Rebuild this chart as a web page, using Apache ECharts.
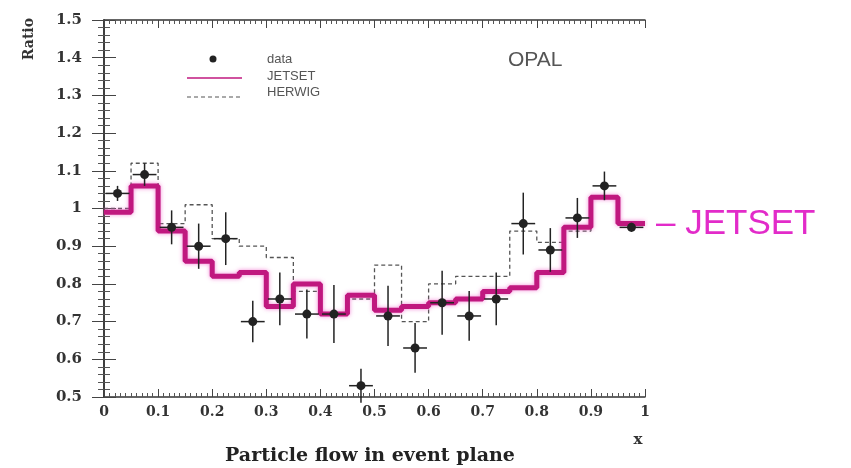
<!DOCTYPE html>
<html>
<head>
<meta charset="utf-8">
<script src="https://cdn.jsdelivr.net/npm/echarts@6/dist/echarts.min.js"></script>
<style>
  html, body { margin: 0; padding: 0; background: #fff; }
  #chart { width: 851px; height: 468px; }
</style>
</head>
<body>
<div id="chart"></div>
<script>
// bin lower edges (width 0.05)
const binEdges = [0, 0.05, 0.1, 0.15, 0.2, 0.25, 0.3, 0.35, 0.4, 0.45,
                  0.5, 0.55, 0.6, 0.65, 0.7, 0.75, 0.8, 0.85, 0.9, 0.95];
const binEnd = 1;

const jetset = [0.99, 1.06, 0.94, 0.86, 0.82, 0.83, 0.74, 0.80, 0.72, 0.77,
                0.73, 0.74, 0.75, 0.76, 0.78, 0.79, 0.83, 0.95, 1.03, 0.96];
const herwig = [1.00, 1.12, 0.96, 1.01, 0.92, 0.90, 0.87, 0.78, 0.72, 0.76,
                0.85, 0.70, 0.80, 0.82, 0.82, 0.94, 0.91, 0.94, 1.03, 0.96];

const dataX = [0.025, 0.075, 0.125, 0.175, 0.225, 0.275, 0.325, 0.375, 0.425, 0.475,
               0.525, 0.575, 0.625, 0.675, 0.725, 0.775, 0.825, 0.875, 0.925, 0.975];
const dataY = [1.04, 1.09, 0.95, 0.90, 0.92, 0.70, 0.76, 0.72, 0.72, 0.53,
               0.715, 0.63, 0.75, 0.715, 0.76, 0.96, 0.89, 0.975, 1.06, 0.95];
const dataErr = [0.02, 0.03, 0.045, 0.06, 0.07, 0.055, 0.07, 0.065, 0.077, 0.045,
                 0.08, 0.066, 0.085, 0.066, 0.07, 0.082, 0.058, 0.053, 0.038, 0.012];
const xHalfWidth = 0.022;

function stepPoints(vals) {
  const pts = binEdges.map((x, i) => [x, vals[i]]);
  pts.push([binEnd, vals[vals.length - 1]]);
  return pts;
}

const fmt = v => String(+v.toFixed(1));
const serif = '"DejaVu Serif", "Liberation Serif", serif';
const sans = '"Liberation Sans", "DejaVu Sans", sans-serif';

const chart = echarts.init(document.getElementById('chart'));

const axisCommon = {
  axisLine: { show: true, lineStyle: { color: '#333', width: 1.5 } },
  splitLine: { show: false }
};

chart.setOption({
  animation: false,
  backgroundColor: '#fff',
  grid: { left: 104, right: 206, top: 20, bottom: 71 },
  xAxis: [{
    ...axisCommon,
    type: 'value', min: 0, max: 1, interval: 0.1,
    axisTick: { inside: true, length: 8, lineStyle: { color: '#444' } },
    minorTick: { show: true, splitNumber: 10, length: 4, lineStyle: { color: '#555' } },
    axisLabel: { formatter: fmt, color: '#333', fontFamily: serif, fontWeight: 'bold', fontSize: 14, margin: 8 }
  }, {
    ...axisCommon,
    type: 'value', min: 0, max: 1, interval: 0.1, position: 'top',
    axisTick: { inside: true, length: 8, lineStyle: { color: '#444' } },
    minorTick: { show: true, splitNumber: 10, length: 4, lineStyle: { color: '#555' } },
    axisLabel: { show: false }
  }],
  yAxis: [{
    ...axisCommon,
    type: 'value', min: 0.5, max: 1.5, interval: 0.1,
    axisTick: { inside: true, length: 12, lineStyle: { color: '#444' } },
    minorTick: { show: true, splitNumber: 5, length: 6, lineStyle: { color: '#555' } },
    axisLabel: { formatter: fmt, color: '#333', fontFamily: serif, fontWeight: 'bold', fontSize: 15, margin: 22 }
  }, {
    ...axisCommon,
    type: 'value', min: 0.5, max: 1.5, interval: 0.1, position: 'right',
    axisTick: { inside: true, length: 12, lineStyle: { color: '#444' } },
    minorTick: { show: true, splitNumber: 5, length: 6, lineStyle: { color: '#555' } },
    axisLabel: { show: false }
  }],
  series: [{
    name: 'HERWIG',
    type: 'line',
    step: 'end',
    data: stepPoints(herwig),
    symbol: 'none',
    lineStyle: { color: '#555', width: 1.3, type: [4, 3] },
    z: 2
  }, {
    name: 'JETSET',
    type: 'line',
    step: 'end',
    data: stepPoints(jetset),
    symbol: 'none',
    lineStyle: { color: '#c0187f', width: 5, shadowColor: 'rgba(240,90,200,0.7)', shadowBlur: 4 },
    z: 3
  }, {
    name: 'data',
    type: 'custom',
    data: dataX.map((x, i) => [x, dataY[i], dataErr[i]]),
    renderItem: function (params, api) {
      const x = api.value(0), y = api.value(1), e = api.value(2);
      const c = api.coord([x, y]);
      const l = api.coord([x - xHalfWidth, y]);
      const r = api.coord([x + xHalfWidth, y]);
      const t = api.coord([x, y + e]);
      const b = api.coord([x, y - e]);
      const st = { stroke: '#222', lineWidth: 1.5 };
      return {
        type: 'group',
        children: [
          { type: 'line', shape: { x1: l[0], y1: l[1], x2: r[0], y2: r[1] }, style: st },
          { type: 'line', shape: { x1: t[0], y1: t[1], x2: b[0], y2: b[1] }, style: st },
          { type: 'circle', shape: { cx: c[0], cy: c[1], r: 4.5 }, style: { fill: '#222' } }
        ]
      };
    },
    z: 5
  }],
  graphic: [
    { type: 'text', left: 22, top: 18, rotation: Math.PI / 2,
      style: { text: 'Ratio', fontFamily: serif, fontWeight: 'bold', fontSize: 14, fill: '#333' } },
    { type: 'circle', shape: { cx: 213, cy: 59, r: 3.5 }, style: { fill: '#222' } },
    { type: 'line', shape: { x1: 187, y1: 78, x2: 242, y2: 78 }, style: { stroke: '#c0187f', lineWidth: 1.5 } },
    { type: 'line', shape: { x1: 187, y1: 97, x2: 242, y2: 97 }, style: { stroke: '#555', lineWidth: 1.2, lineDash: [4, 3] } },
    { type: 'text', x: 267, y: 59, style: { text: 'data', fontFamily: sans, fontSize: 13, fill: '#555', verticalAlign: 'middle' } },
    { type: 'text', x: 267, y: 76, style: { text: 'JETSET', fontFamily: sans, fontSize: 13, fill: '#555', verticalAlign: 'middle' } },
    { type: 'text', x: 267, y: 92, style: { text: 'HERWIG', fontFamily: sans, fontSize: 13, fill: '#555', verticalAlign: 'middle' } },
    { type: 'text', x: 508, y: 60, style: { text: 'OPAL', fontFamily: sans, fontSize: 21, fill: '#555', verticalAlign: 'middle' } },
    { type: 'text', x: 638, y: 440, style: { text: 'x', fontFamily: serif, fontWeight: 'bold', fontSize: 15, fill: '#333', align: 'center', verticalAlign: 'middle' } },
    { type: 'text', x: 370, y: 456, style: { text: 'Particle flow in event plane', fontFamily: serif, fontWeight: 'bold', fontSize: 19, fill: '#222', align: 'center', verticalAlign: 'middle' } },
    { type: 'text', x: 656, y: 224, style: { text: '\u2013 JETSET', fontFamily: sans, fontSize: 35, fill: '#e22bc9', verticalAlign: 'middle' } }
  ]
});
</script>
</body>
</html>
